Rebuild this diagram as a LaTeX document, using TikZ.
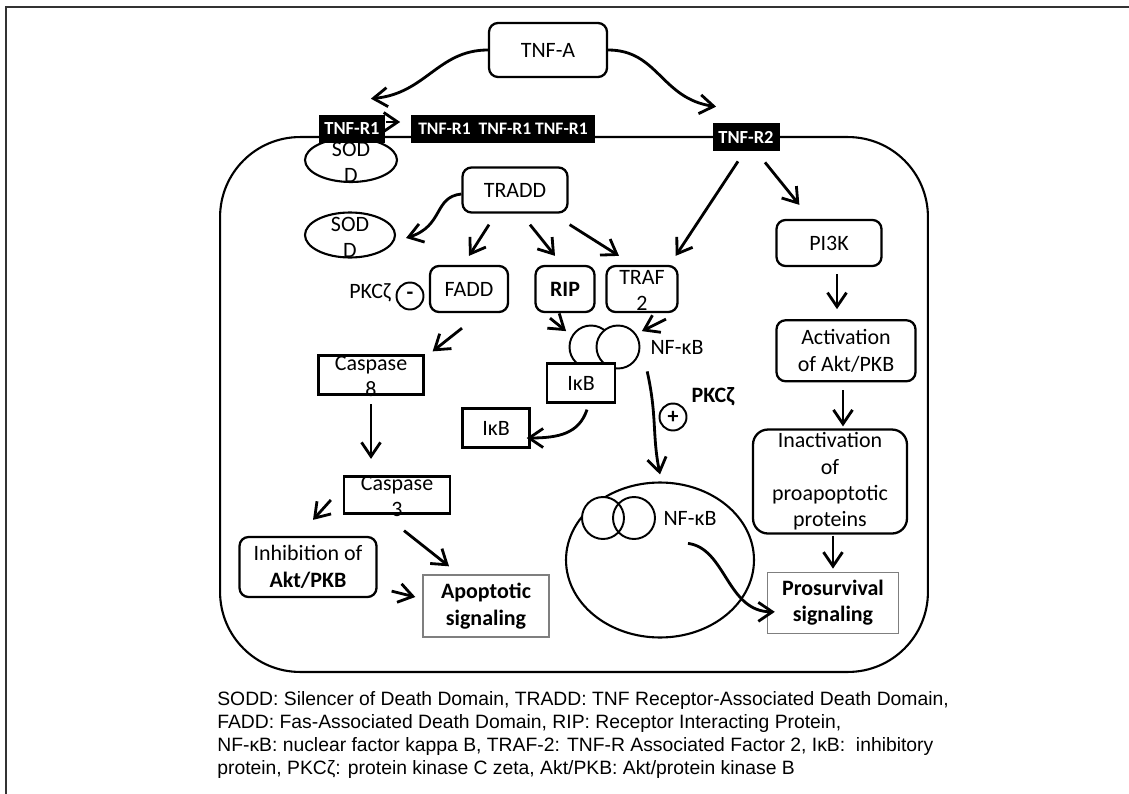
\documentclass[tikz,border=0pt]{standalone}
\usepackage{fontspec}
\setmainfont{Carlito}
\newfontfamily\legendfont{Liberation Sans}
\usetikzlibrary{arrows.meta,positioning,shapes.geometric,calc}
\newcommand{\diagfont}{\fontsize{12.5}{15}\selectfont}
\definecolor{framegray}{HTML}{333333}
\definecolor{outline}{HTML}{7F7F7F}
\tikzset{
  rbox/.style={rounded corners=1.8mm, draw, line width=1.3pt, align=center, inner sep=0pt, font=\diagfont},
  sbox/.style={draw, line width=1.3pt, align=center, inner sep=0pt, font=\diagfont},
  outbox/.style={draw=outline, line width=0.8pt, align=center, inner sep=0pt, font=\diagfont\bfseries},
  recep/.style={fill=black, text=white, inner sep=0pt, font=\fontsize{10.5}{12}\selectfont\bfseries},
  sodd/.style={ellipse, draw, line width=1.2pt, fill=white, inner sep=0pt},
  blob/.style={circle, draw, line width=1.1pt, fill=white, minimum size=8.6mm, inner sep=0pt},
  sign/.style={circle, draw, line width=1.1pt, minimum size=5.4mm, inner sep=0pt, font=\diagfont\bfseries},
  tag/.style={inner sep=0pt, font=\diagfont},
  arrow/.style={-{Straight Barb[length=2.8mm,width=3.8mm]}, line width=1.6pt}
}
\begin{document}
\begin{tikzpicture}[x=0.02cm, y=-0.02cm]
  \useasboundingbox (0,0) rectangle (1129,794);
  \draw[framegray, line width=1.2pt] (1129,7) -- (6,7) -- (6,794);

  \node[draw, line width=1.2pt, rounded corners=16mm, minimum width=141.6mm, minimum height=107mm, inner sep=0pt] (cell) at (574,404.5) {};

  \node[rbox, minimum width=23.6mm, minimum height=10.8mm] (tnfa) at (548,50) {TNF-A};
  \node[sodd, minimum width=18.4mm, minimum height=8.8mm, label={[tag, align=center, yshift=-1.5pt]center:SOD\\D}] (soddone) at (351,160) {};
  \node[recep, minimum width=13.4mm, minimum height=5.6mm] (tnfrone) at (352,129) {TNF-R1};
  \node[recep, minimum width=37mm, minimum height=5.6mm, font=\fontsize{10}{12}\selectfont\bfseries] (tnfrgroup) at (503,129) {TNF-R1\ \ TNF-R1 TNF-R1};
  \node[recep, minimum width=13.4mm, minimum height=5.6mm] (tnfrtwo) at (746,137) {TNF-R2};

  \node[rbox, minimum width=21mm, minimum height=9mm] (tradd) at (515,190) {TRADD};
  \node[sodd, minimum width=18mm, minimum height=9mm, label={[tag, align=center, yshift=-1.5pt]center:SOD\\D}] (soddtwo) at (350,235) {};
  \node[rbox, minimum width=15.6mm, minimum height=9.2mm] (fadd) at (469,289) {FADD};
  \node[rbox, minimum width=11.8mm, minimum height=9.2mm, font=\diagfont\bfseries] (rip) at (565,289) {RIP};
  \node[rbox, minimum width=14.2mm, minimum height=9.2mm, label={[tag, align=center, yshift=-1pt]center:TRAF\\2}] (traf) at (642,289) {};
  \node[tag] (pkcminus) at (370,293) {PKCζ};
  \node[sign] (minus) at (410,296) {\raisebox{-2pt}{-}};

  \node[sbox, minimum width=21mm, minimum height=7.8mm, label={[tag, align=center, yshift=-1pt]center:Caspase\\8}] (caspeight) at (371,375) {};
  \node[sbox, minimum width=21.2mm, minimum height=7.4mm, label={[tag, align=center, yshift=-1pt]center:Caspase\\3}] (caspthree) at (397,495) {};
  \node[rbox, minimum width=27.4mm, minimum height=12mm] (inhib) at (308,567) {Inhibition of\\\textbf{Akt/PKB}};
  \node[outbox, minimum width=25.2mm, minimum height=12.4mm] (apop) at (486,606) {Apoptotic\\signaling};

  \node[blob] (nfkbl) at (591,347) {};
  \node[blob] (nfkbr) at (618,347) {};
  \node[tag] (nfkbtxt) at (677,347) {NF-κB};
  \node[sbox, fill=white, minimum width=13.6mm, minimum height=7.8mm] (ikb) at (581,383) {IκB};
  \node[sbox, minimum width=13.4mm, minimum height=7.8mm] (ikbtwo) at (496,428) {IκB};
  \node[sign] (plus) at (673,417) {+};
  \node[tag, font=\diagfont\bfseries] (pkcplus) at (713,397) {PKCζ};

  \node[ellipse, draw, line width=1.2pt, minimum width=37.6mm, minimum height=31mm, inner sep=0pt] (nucleus) at (660,560) {};
  \node[blob, minimum size=8.4mm] (nucl) at (603,518) {};
  \node[blob, minimum size=8.4mm, fill=none] (nucr) at (634,518) {};
  \node[tag] (nfkbin) at (690,518) {NF-κB};

  \node[rbox, minimum width=21mm, minimum height=9.2mm] (pithreek) at (829,243) {PI3K};
  \node[rbox, minimum width=27.8mm, minimum height=12.2mm, below=10.4mm of pithreek, xshift=3.4mm] (activ) {Activation\\of Akt/PKB};
  \node[rbox, rounded corners=3mm, minimum width=30.8mm, minimum height=20.8mm, below=9.2mm of activ, xshift=-3.2mm] (inactiv) {Inactivation\\of\\proapoptotic\\proteins};
  \node[outbox, minimum width=26.2mm, minimum height=12.2mm, below=7.4mm of inactiv, xshift=0.6mm] (prosurv) {Prosurvival\\signaling};

  \node[anchor=north west, align=left, inner sep=0pt, font=\legendfont\fontsize{11}{13.1}\selectfont] (legend) at (217,691) {SODD: Silencer of Death Domain, TRADD: TNF Receptor-Associated Death Domain,\\FADD: Fas-Associated Death Domain, RIP: Receptor Interacting Protein,\\NF-κB: nuclear factor kappa B, TRAF-2: TNF-R Associated Factor 2, IκB:\ \ inhibitory\\protein, PKCζ: protein kinase C zeta, Akt/PKB: Akt/protein kinase B};

  \coordinate (ronetip) at ($(tnfrone.north east)+(-15,-16)$);
  \coordinate (rtwotip) at ($(tnfrtwo.north west)+(4,-16)$);
  \draw[arrow] (tnfa.west) .. controls +(-50,0) and +(55,-5) .. (ronetip);
  \draw[arrow] (tnfa.east) .. controls +(50,0) and +(-55,-8) .. (rtwotip);
  \draw[arrow] ($(tnfrone.east)+(0,-7)$) -- ($(tnfrgroup.west)+(-10,-7)$);
  \draw[arrow] ($(tnfrtwo.south)+(-8,10)$) -- ($(traf.north east)+(-3,-9)$);
  \draw[arrow] ($(tnfrtwo.south)+(19,11)$) -- ($(pithreek.north west)+(24,-14)$);
  \draw[arrow] ($(tradd.south)+(-26,11)$) -- ($(fadd.north)+(0,-9)$);
  \draw[arrow] ($(tradd.south)+(15,11)$) -- ($(rip.north)+(-10,-9)$);
  \draw[arrow] ($(tradd.south east)+(1,11)$) -- ($(traf.north)+(-23,-9)$);
  \draw[arrow] ($(tradd.west)+(0,4)$) .. controls +(-28,3) and +(38,-12) .. ($(soddtwo.east)+(10,3)$);
  \draw[arrow] ($(fadd.south)+(-7,15)$) -- ($(caspeight.north east)+(8,-3)$);
  \draw[arrow] ($(rip.south)+(-15,5)$) -- ($(nfkbl.north west)+(-9,0)$);
  \draw[arrow] ($(traf.south)+(24,6)$) -- ($(nfkbr.north east)+(8,0)$);
  \draw[arrow, shorten <=1.7mm, shorten >=3.3mm] (caspeight.south) -- (caspeight.south |- caspthree.north);
  \draw[arrow] ($(caspthree.west)+(-12,5)$) -- ($(inhib.north)+(5,-16)$);
  \draw[arrow] ($(caspthree.south)+(7,16)$) -- ($(apop.north)+(-37,-8)$);
  \draw[arrow] ($(inhib.south east)+(14,-7)$) -- ($(apop.west)+(-7,-9)$);
  \draw[arrow] ($(ikb.south)+(6,6)$) .. controls +(-8,24) and +(32,0) .. ($(ikbtwo.east)+(-4,10)$);
  \draw[arrow] ($(nfkbtxt.south west)+(-3,17)$) .. controls +(10,45) and +(-8,-40) .. ($(nucleus.north)+(0,-7)$);
  \draw[arrow] ($(nfkbin.south)+(-2,18)$) .. controls +(38,5) and +(-48,0) .. ($(prosurv.west)+(8,9)$);
  \draw[arrow, shorten <=1.4mm, shorten >=2mm] ([xshift=1.6mm]pithreek.south) -- ([xshift=1.6mm]pithreek.south |- activ.north);
  \draw[arrow, shorten <=1.6mm, shorten >=0.4mm] ([xshift=-0.6mm]activ.south) -- ([xshift=-0.6mm]activ.south |- inactiv.north);
  \draw[arrow, shorten <=0.2mm, shorten >=0.6mm] ([xshift=0.6mm]inactiv.south) -- ([xshift=0.6mm]inactiv.south |- prosurv.north);
\end{tikzpicture}
\end{document}
